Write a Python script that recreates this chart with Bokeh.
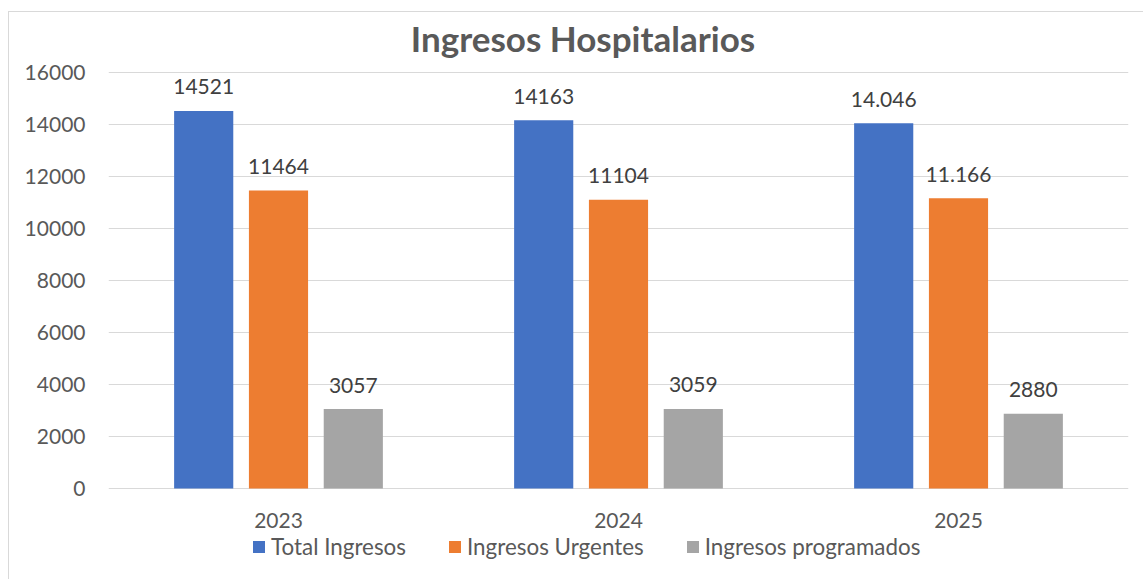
from bokeh.plotting import figure
from bokeh.models import ColumnDataSource, FactorRange, Range1d, FixedTicker, Label, Legend, LegendItem
from bokeh.transform import dodge
from bokeh.core.properties import value
from bokeh.embed import file_html
from bokeh.resources import INLINE

years = ["2023", "2024", "2025"]
total = [14521, 14163, 14046]
urgentes = [11464, 11104, 11166]
programados = [3057, 3059, 2880]
total_labels = ["14521", "14163", "14.046"]
urg_labels = ["11464", "11104", "11.166"]
prog_labels = ["3057", "3059", "2880"]
y_ticks = [0, 2000, 4000, 6000, 8000, 10000, 12000, 14000, 16000]

FONT = "Lato"

src = ColumnDataSource(dict(years=years, zero=[0, 0, 0], total=total, urgentes=urgentes,
                            programados=programados, total_labels=total_labels,
                            urg_labels=urg_labels, prog_labels=prog_labels))

# the frame covers the whole chart height; the strips above 16000 and below 0
# hold the title, the category labels and the legend
p = figure(width=1135, height=568, x_range=FactorRange(*years), y_range=Range1d(-3538, 18308),
           output_backend="svg", toolbar_location=None,
           min_border_left=99, min_border_right=16, min_border_top=0, min_border_bottom=0)
p.margin = (11, 0, 0, 8)
p.styles = {"border-left": "1px solid #d9d9d9", "border-top": "1px solid #d9d9d9"}
p.outline_line_color = None
p.background_fill_color = "white"
p.border_fill_color = "white"

series = [("total", "total_labels", "#4472C4", -0.22, "Total Ingresos"),
          ("urgentes", "urg_labels", "#ED7D31", 0.0, "Ingresos Urgentes"),
          ("programados", "prog_labels", "#A5A5A5", 0.22, "Ingresos programados")]

items = []
for col, lab, color, off, name in series:
    r = p.vbar(x=dodge("years", off, range=p.x_range), top=col, width=0.174, source=src,
               fill_color=color, line_color=None)
    items.append(LegendItem(label=name, renderers=[r]))
    p.text(x=dodge("years", off, range=p.x_range), y=col, text=lab, source=src,
           text_align="center", text_baseline="middle", y_offset=-24,
           text_font=value(FONT), text_font_size="21px", text_color="#404040")

# category labels under the baseline
p.text(x="years", y="zero", text="years", source=src, text_align="center",
       text_baseline="middle", y_offset=32, text_font=value(FONT),
       text_font_size="21px", text_color="#595959")

p.xaxis.visible = False
p.xgrid.grid_line_color = None
p.ygrid.grid_line_color = "#d9d9d9"
p.ygrid.ticker = FixedTicker(ticks=y_ticks)
p.yaxis.ticker = FixedTicker(ticks=y_ticks)

ax = p.yaxis[0]
ax.axis_line_color = None
ax.major_tick_line_color = None
ax.minor_tick_line_color = None
ax.major_tick_in = 0
ax.major_tick_out = 0
ax.major_label_text_font = FONT
ax.major_label_text_font_size = "21px"
ax.major_label_text_color = "#595959"
ax.major_label_standoff = 23

title = Label(x=1.3956, y=17346, text="Ingresos Hospitalarios", text_align="center",
              text_baseline="alphabetic", text_font=FONT, text_font_style="bold",
              text_font_size="35px", text_color="#595959")
p.add_layout(title)

lg = Legend(items=items, orientation="horizontal", location=(143, 20),
            padding=0, margin=0, spacing=41, border_line_color=None,
            background_fill_alpha=0, glyph_width=15, glyph_height=15, label_standoff=5,
            label_text_font=FONT, label_text_font_size="22.4px", label_text_color="#595959")
p.add_layout(lg, "center")

open("out.html", "w").write(file_html(p, INLINE))
